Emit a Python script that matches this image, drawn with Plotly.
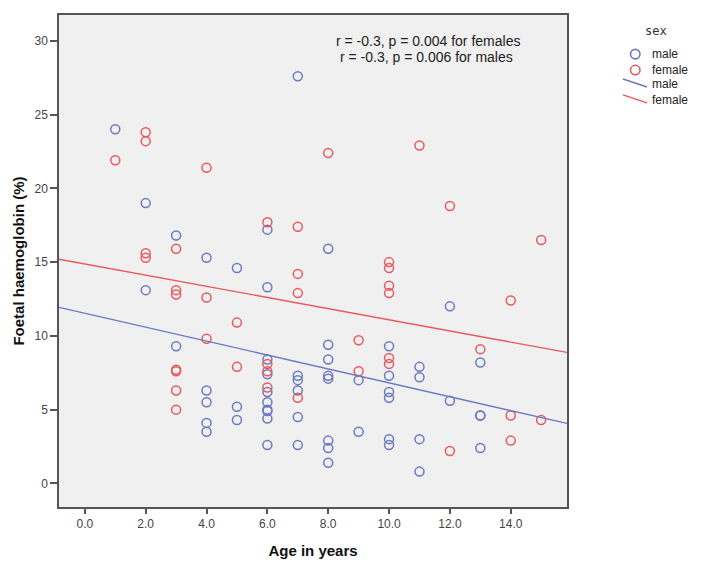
import plotly.graph_objects as go

# ---- data ----
male_age = [1,
            2, 2,
            3, 3,
            4, 4, 4, 4, 4,
            5, 5, 5,
            6, 6, 6, 6, 6, 6, 6, 6, 6, 6,
            7, 7, 7, 7, 7, 7,
            8, 8, 8, 8, 8, 8, 8, 8,
            9, 9,
            10, 10, 10, 10, 10, 10,
            11, 11, 11, 11,
            12, 12,
            13, 13, 13, 13]
male_hbf = [24.0,
            19.0, 13.1,
            16.8, 9.3,
            15.3, 6.3, 5.5, 4.1, 3.5,
            14.6, 5.2, 4.3,
            17.2, 13.3, 8.4, 7.4, 6.2, 5.5, 5.0, 4.9, 4.4, 2.6,
            27.6, 7.3, 7.0, 6.3, 4.5, 2.6,
            15.9, 9.4, 8.4, 7.3, 7.1, 2.9, 2.4, 1.4,
            7.0, 3.5,
            9.3, 7.3, 6.2, 5.8, 3.0, 2.6,
            7.9, 7.2, 3.0, 0.8,
            12.0, 5.6,
            8.2, 4.6, 4.6, 2.4]

female_age = [1,
              2, 2, 2, 2,
              3, 3, 3, 3, 3, 3, 3,
              4, 4, 4,
              5, 5,
              6, 6, 6, 6,
              7, 7, 7, 7,
              8,
              9, 9,
              10, 10, 10, 10, 10, 10,
              11,
              12, 12,
              13,
              14, 14, 14,
              15, 15]
female_hbf = [21.9,
              23.8, 23.2, 15.6, 15.3,
              15.9, 13.1, 12.8, 7.7, 7.6, 6.3, 5.0,
              21.4, 12.6, 9.8,
              10.9, 7.9,
              17.7, 8.1, 7.6, 6.5,
              17.4, 14.2, 12.9, 5.8,
              22.4,
              9.7, 7.6,
              15.0, 14.6, 13.4, 12.9, 8.5, 8.1,
              22.9,
              18.8, 2.2,
              9.1,
              12.4, 4.6, 2.9,
              16.5, 4.3]

# fit lines (intercept, slope)
male_fit = (11.53, -0.471)
female_fit = (14.87, -0.378)

stats_lines = ["r = -0.3, p = 0.004 for females", "r = -0.3, p = 0.006 for males"]

x_range = [-0.85, 15.85]
y_range = [-1.6, 31.75]
x_ticks = [0, 2, 4, 6, 8, 10, 12, 14]
y_ticks = [0, 5, 10, 15, 20, 25, 30]

BLUE = "#6b78c2"
RED = "#e8585c"
FONT = "Liberation Sans, Arial, sans-serif"

fig = go.Figure()

fig.add_trace(go.Scatter(x=male_age, y=male_hbf, mode="markers", name="male",
                         marker=dict(symbol="circle-open", size=9, color=BLUE,
                                     line=dict(width=1.5, color=BLUE)),
                         showlegend=False))
fig.add_trace(go.Scatter(x=female_age, y=female_hbf, mode="markers", name="female",
                         marker=dict(symbol="circle-open", size=9, color=RED,
                                     line=dict(width=1.5, color=RED)),
                         showlegend=False))

for (b0, b1), col, nm in [(male_fit, BLUE, "male"), (female_fit, RED, "female")]:
    xs = list(x_range)
    ys = [b0 + b1 * v for v in xs]
    fig.add_trace(go.Scatter(x=xs, y=ys, mode="lines", name=nm,
                             line=dict(color=col, width=1.4), showlegend=False,
                             hoverinfo="skip"))

# page-coordinate helpers (plot area spans x 59..567, y 12.7..507 on the page)
def px(v):
    return (v - 59) / 508

def pyy(v):
    return (507 - v) / 494.3

# custom legend (SPSS style)
fig.add_annotation(xref="paper", yref="paper", x=px(656), y=pyy(29),
                   text="sex", showarrow=False, xanchor="center", yanchor="middle",
                   font=dict(family="DejaVu Sans Mono, monospace", size=12, color="#333"))
legend_items = [("circle", BLUE, "male", 52), ("circle", RED, "female", 68),
                ("line", BLUE, "male", 82), ("line", RED, "female", 98)]
for kind, col, label, py in legend_items:
    if kind == "circle":
        fig.add_shape(type="circle", xref="paper", yref="paper",
                      x0=px(630.5), x1=px(640), y0=pyy(py + 4.75), y1=pyy(py - 4.75),
                      line=dict(color=col, width=1.6))
    else:
        fig.add_shape(type="line", xref="paper", yref="paper",
                      x0=px(623), x1=px(647), y0=pyy(py - 5), y1=pyy(py + 3),
                      line=dict(color=col, width=1.4))
    fig.add_annotation(xref="paper", yref="paper", x=px(650), y=pyy(py),
                       text=label, showarrow=False, xanchor="left", yanchor="middle",
                       font=dict(family=FONT, size=12, color="#222"))

for line_text, cx, cy in zip(stats_lines, [428, 426], [39, 55]):
    fig.add_annotation(xref="paper", yref="paper", x=px(cx), y=pyy(cy),
                       text=line_text, showarrow=False, xanchor="center", yanchor="middle",
                       font=dict(family=FONT, size=14, color="#222"))

# the page body has an 8px margin, so the figure is sized/offset to compensate
fig.update_layout(
    width=686, height=558,
    margin=dict(l=51, r=127, t=5, b=59),
    paper_bgcolor="white",
    plot_bgcolor="#f0f0f0",
    font=dict(family=FONT, size=12, color="#333"),
    showlegend=False,
)
fig.update_xaxes(range=x_range, tickvals=x_ticks, ticktext=[f"{v:.1f}" for v in x_ticks],
                 showgrid=False, zeroline=False, showline=True, mirror=True,
                 linecolor="#555", linewidth=1.5, ticks="outside", ticklen=5,
                 tickcolor="#555", tickwidth=1.5,
                 title=dict(text="<b>Age in years</b>", font=dict(size=15, color="#111"),
                            standoff=15),
                 tickfont=dict(size=12, color="#444"))
fig.update_yaxes(range=y_range, tickvals=y_ticks,
                 showgrid=False, zeroline=False, showline=True, mirror=True,
                 linecolor="#555", linewidth=1.5, ticks="outside", ticklen=7,
                 tickcolor="#555", tickwidth=1.5,
                 title=dict(text="<b>Foetal haemoglobin (%)</b>", font=dict(size=15, color="#111"),
                            standoff=6),
                 tickfont=dict(size=12, color="#444"))

fig.write_html("out.html")
